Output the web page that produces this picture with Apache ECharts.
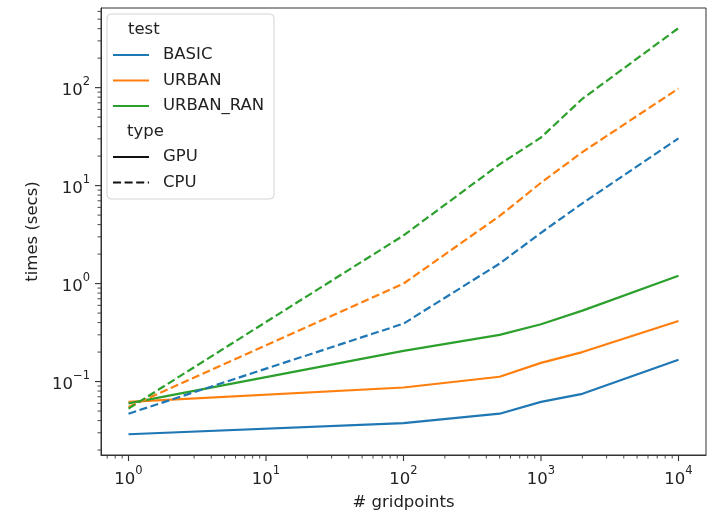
<!DOCTYPE html>
<html><head><meta charset="utf-8">
<script src="https://cdn.jsdelivr.net/npm/echarts@6/dist/echarts.min.js"></script>
<style>html,body{margin:0;padding:0;background:#fff}#c{width:713px;height:516px}</style>
</head><body><div id="c"></div>
<script>
// ---- data ----
const gridpoints = [1, 100, 500, 1000, 2000, 10000];
const gpuBasic    = [0.029, 0.0376, 0.047, 0.062, 0.075, 0.167];
const gpuUrban    = [0.062, 0.087, 0.112, 0.155, 0.2, 0.415];
const gpuUrbanRan = [0.060, 0.206, 0.30, 0.385, 0.53, 1.2];
const cpuBasic    = [0.047, 0.39, 1.6, 3.3, 6.6, 30.4];
const cpuUrban    = [0.055, 1.0, 4.9, 10.7, 22, 98];
const cpuUrbanRan = [0.053, 3.1, 16.5, 31, 77, 405];
const testNames = ['BASIC', 'URBAN', 'URBAN_RAN'];
const typeNames = ['GPU', 'CPU'];
const xMajorTicks = [1, 10, 100, 1000, 10000];
const xMinorTicks = [0.7, 0.8, 0.9, 2, 3, 4, 5, 6, 7, 8, 9, 20, 30, 40, 50, 60, 70, 80, 90,
  200, 300, 400, 500, 600, 700, 800, 900, 2000, 3000, 4000, 5000, 6000, 7000, 8000, 9000];
const yMajorTicks = [0.1, 1, 10, 100];
const yMinorTicks = [0.02, 0.03, 0.04, 0.05, 0.06, 0.07, 0.08, 0.09, 0.2, 0.3, 0.4, 0.5, 0.6, 0.7, 0.8, 0.9,
  2, 3, 4, 5, 6, 7, 8, 9, 20, 30, 40, 50, 60, 70, 80, 90, 200, 300, 400, 500, 600];

const colors = ['#1f77b4', '#ff7f0e', '#2ca02c'];
const FONT = 'DejaVu Sans';
const FS = 16.5;
const TXT = '#222';
const X_MIN = 0.631, X_MAX = 15849, Y_MIN = 0.0178, Y_MAX = 650;
const DASH = [8, 3.6];

function logLabel(v) {
  const l = Math.log10(v), e = Math.round(l);
  if (Math.abs(l - e) > 1e-6) return '';
  return '{b|10}{s|' + (e < 0 ? '\u2212' + (-e) : e) + '}';
}
const richLab = {
  b: { fontFamily: FONT, fontSize: FS, color: TXT, verticalAlign: 'bottom', lineHeight: 23 },
  s: { fontFamily: FONT, fontSize: 11.5, color: TXT, verticalAlign: 'top', lineHeight: 12 }
};

const groups = [
  ['GPU', [gpuBasic, gpuUrban, gpuUrbanRan]],
  ['CPU', [cpuBasic, cpuUrban, cpuUrbanRan]]
];
const series = [];
groups.forEach(([type, arrs]) => {
  arrs.forEach((vals, i) => {
    series.push({
      name: testNames[i] + ' ' + type,
      type: 'line', showSymbol: false, silent: true, z: 3,
      data: gridpoints.map((x, k) => [x, vals[k]]),
      lineStyle: { color: colors[i], width: 2.2, type: type === 'CPU' ? DASH : 'solid', cap: 'butt', join: 'round' }
    });
  });
});

function tickSeries(axis, majors, minors) {
  const vals = majors.map(v => [v, 1]).concat(minors.map(v => [v, 0]));
  return {
    type: 'custom', silent: true, clip: false, z: 6,
    data: vals.map(([v, m]) => axis === 'x' ? [v, 1, m] : [1, v, m]),
    renderItem: function (params, api) {
      const cs = params.coordSys;
      const major = api.value(2);
      const len = major ? 6 : 3.5;
      const p = api.coord([api.value(0), api.value(1)]);
      let shape;
      if (axis === 'x') {
        const y0 = cs.y + cs.height;
        shape = { x1: p[0], y1: y0, x2: p[0], y2: y0 + len };
      } else {
        const x0 = cs.x;
        shape = { x1: x0, y1: p[1], x2: x0 - len, y2: p[1] };
      }
      return { type: 'line', shape: shape, style: { stroke: '#333', lineWidth: major ? 1.1 : 0.9 } };
    }
  };
}
series.push(tickSeries('x', xMajorTicks, xMinorTicks));
series.push(tickSeries('y', yMajorTicks, yMinorTicks));

// legend drawn as graphic
const LX = 107, LY = 14;
const legendEls = [{
  type: 'rect', shape: { x: LX, y: LY, width: 167, height: 185, r: 4 },
  style: { fill: 'rgba(255,255,255,0.85)', stroke: '#d3d3d3', lineWidth: 1 }
}];
function legendText(t, x, y) {
  legendEls.push({ type: 'text', x: x, y: y,
    style: { text: t, font: FS + 'px "' + FONT + '"', fill: TXT, verticalAlign: 'middle', align: 'left' } });
}
function legendLine(y, color, dashed) {
  legendEls.push({ type: 'line', shape: { x1: 113, y1: y, x2: 149, y2: y },
    style: { stroke: color, lineWidth: 2.2, lineDash: dashed ? DASH : null } });
}
legendText('test', 128, 30);
testNames.forEach((n, i) => { const y = 55 + i * 25.5; legendLine(y, colors[i], false); legendText(n, 163, y); });
legendText('type', 127, 132);
typeNames.forEach((n, i) => { const y = 157 + i * 25.5; legendLine(y, '#111', n === 'CPU'); legendText(n, 163, y); });

const chart = echarts.init(document.getElementById('c'), null, { renderer: 'canvas' });
chart.setOption({
  animation: false,
  backgroundColor: '#fff',
  grid: { left: 101, right: 7, top: 8, bottom: 59, show: true, borderColor: '#333', borderWidth: 1, backgroundColor: 'transparent' },
  xAxis: {
    type: 'log', logBase: 10, min: X_MIN, max: X_MAX,
    name: '# gridpoints', nameLocation: 'middle', nameGap: 39,
    nameTextStyle: { fontFamily: FONT, fontSize: FS, color: TXT },
    axisLine: { show: true, lineStyle: { color: '#333', width: 1 } },
    axisTick: { show: false }, splitLine: { show: false }, minorTick: { show: false },
    axisLabel: { formatter: logLabel, rich: richLab, margin: 10, showMinLabel: false, showMaxLabel: false }
  },
  yAxis: {
    type: 'log', logBase: 10, min: Y_MIN, max: Y_MAX,
    name: 'times (secs)', nameLocation: 'middle', nameGap: 58, nameRotate: 90,
    nameTextStyle: { fontFamily: FONT, fontSize: FS, color: TXT },
    axisLine: { show: true, lineStyle: { color: '#333', width: 1 } },
    axisTick: { show: false }, splitLine: { show: false }, minorTick: { show: false },
    axisLabel: { formatter: logLabel, rich: richLab, margin: 11, showMinLabel: false, showMaxLabel: false }
  },
  series: series,
  graphic: [{ type: 'group', z: 100, children: legendEls }]
});
</script>
</body></html>
